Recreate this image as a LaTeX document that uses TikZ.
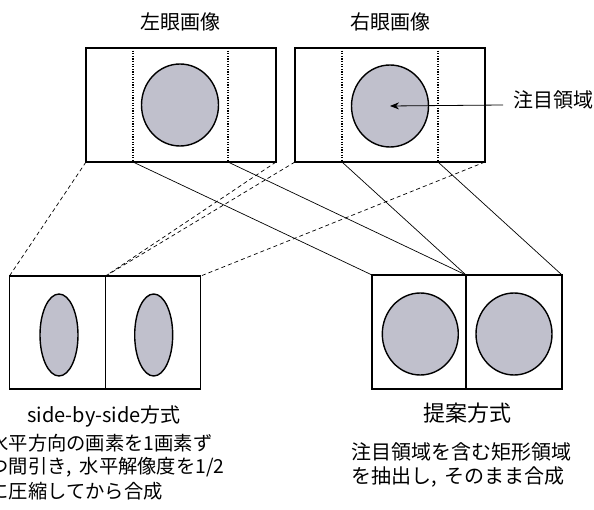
\documentclass[tikz,border=0pt]{standalone}
\usepackage{fontspec}
\setmainfont{Noto Sans CJK JP}
\usetikzlibrary{arrows.meta,shapes.geometric}
\definecolor{roifill}{RGB}{192,192,204}
\begin{document}
\begin{tikzpicture}[x=1pt,y=-1pt,
  frame/.style={draw, line width=1.5pt, inner sep=0pt, outer sep=0pt},
  roi/.style={ellipse, draw, line width=1.4pt, fill=roifill, inner sep=0pt, outer sep=0pt},
  cutline/.style={line width=1.4pt, dash pattern=on 1.3pt off 1.3pt},
  dashline/.style={line width=0.7pt, dash pattern=on 4pt off 3pt},
  thinline/.style={line width=0.7pt},
  txt/.style={inner sep=0pt, outer sep=0pt, font=\fontsize{20}{24}\selectfont},
  desctxt/.style={inner sep=0pt, outer sep=0pt, font=\fontsize{19.3}{23}\selectfont},
  bigtxt/.style={inner sep=0pt, outer sep=0pt, font=\fontsize{22}{26}\selectfont}]
\useasboundingbox (0,0) rectangle (594,510);

% top images
\node[frame, minimum width=190pt, minimum height=114pt] (L) at (181,105) {};
\node[frame, minimum width=190pt, minimum height=114pt] (R) at (390,105) {};
\node[roi, minimum width=77pt, minimum height=82pt] (Lc) at (180,105) {};
\node[roi, minimum width=77pt, minimum height=82pt] (Rc) at (390,106) {};

\coordinate (La) at (133,48);  \coordinate (Lab) at (133,162);
\coordinate (Lb) at (228,48);  \coordinate (Lbb) at (228,162);
\coordinate (Ra) at (342,48);  \coordinate (Rab) at (342,162);
\coordinate (Rb) at (438,48);  \coordinate (Rbb) at (438,162);
\draw[cutline] (La) -- (Lab);
\draw[cutline] (Lb) -- (Lbb);
\draw[cutline] (Ra) -- (Rab);
\draw[cutline] (Rb) -- (Rbb);

\node[txt] (Lt) at (180,22) {左眼画像};
\node[txt] (Rt) at (390,22) {右眼画像};
\node[txt, anchor=west] (roiL) at (513,100) {注目領域};
\coordinate (roiS) at (503,105);
\draw[thinline, line width=0.8pt, -{Stealth[length=9pt,width=7pt]}] (roiS) -- (Rc.center);

% side-by-side
\node[frame, minimum width=96pt, minimum height=113pt] (S1) at (57.3,332.7) {};
\node[frame, minimum width=95pt, minimum height=113pt] (S2) at (152.8,332.7) {};
\node[roi, minimum width=38pt, minimum height=82pt] (S1c) at (59,335) {};
\node[roi, minimum width=38pt, minimum height=82pt] (S2c) at (153.7,335) {};

% proposed
\node[frame, minimum width=94pt, minimum height=114pt] (P1) at (419,332) {};
\node[frame, minimum width=96pt, minimum height=114pt] (P2) at (514,332) {};
\node[roi, minimum width=76pt, minimum height=82pt] (P1c) at (420.3,334) {};
\node[roi, minimum width=76pt, minimum height=82pt] (P2c) at (514,334) {};

% connectors
\draw[dashline] (L.south west) -- (S1.north west);
\draw[dashline] (L.south east) -- (S1.north east);
\draw[dashline] (R.south west) -- (S2.north west);
\draw[dashline] (R.south east) -- (S2.north east);
\draw[thinline] (Lab) -- (P1.north west);
\draw[thinline] (Lbb) -- (P1.north east);
\draw[thinline] (Rab) -- (P2.north west);
\draw[thinline] (Rbb) -- (P2.north east);

% captions
\node[txt] (St) at (104,416) {side-by-side方式};
\node[bigtxt] (Pt) at (467,413) {提案方式};
\node[desctxt, anchor=west] (d1) at (-10.5,443) {水平方向の画素を1画素ず};
\node[desctxt, anchor=west] (d2) at (-10.5,467) {つ間引き,\hspace{0.4em}水平解像度を1/2};
\node[desctxt, anchor=west] (d3) at (-10.5,491) {に圧縮してから合成};
\node[txt, anchor=west] (e1) at (351,452) {注目領域を含む矩形領域};
\node[txt, anchor=west] (e2) at (351,477) {を抽出し,\hspace{0.4em}そのまま合成};
\end{tikzpicture}
\end{document}
